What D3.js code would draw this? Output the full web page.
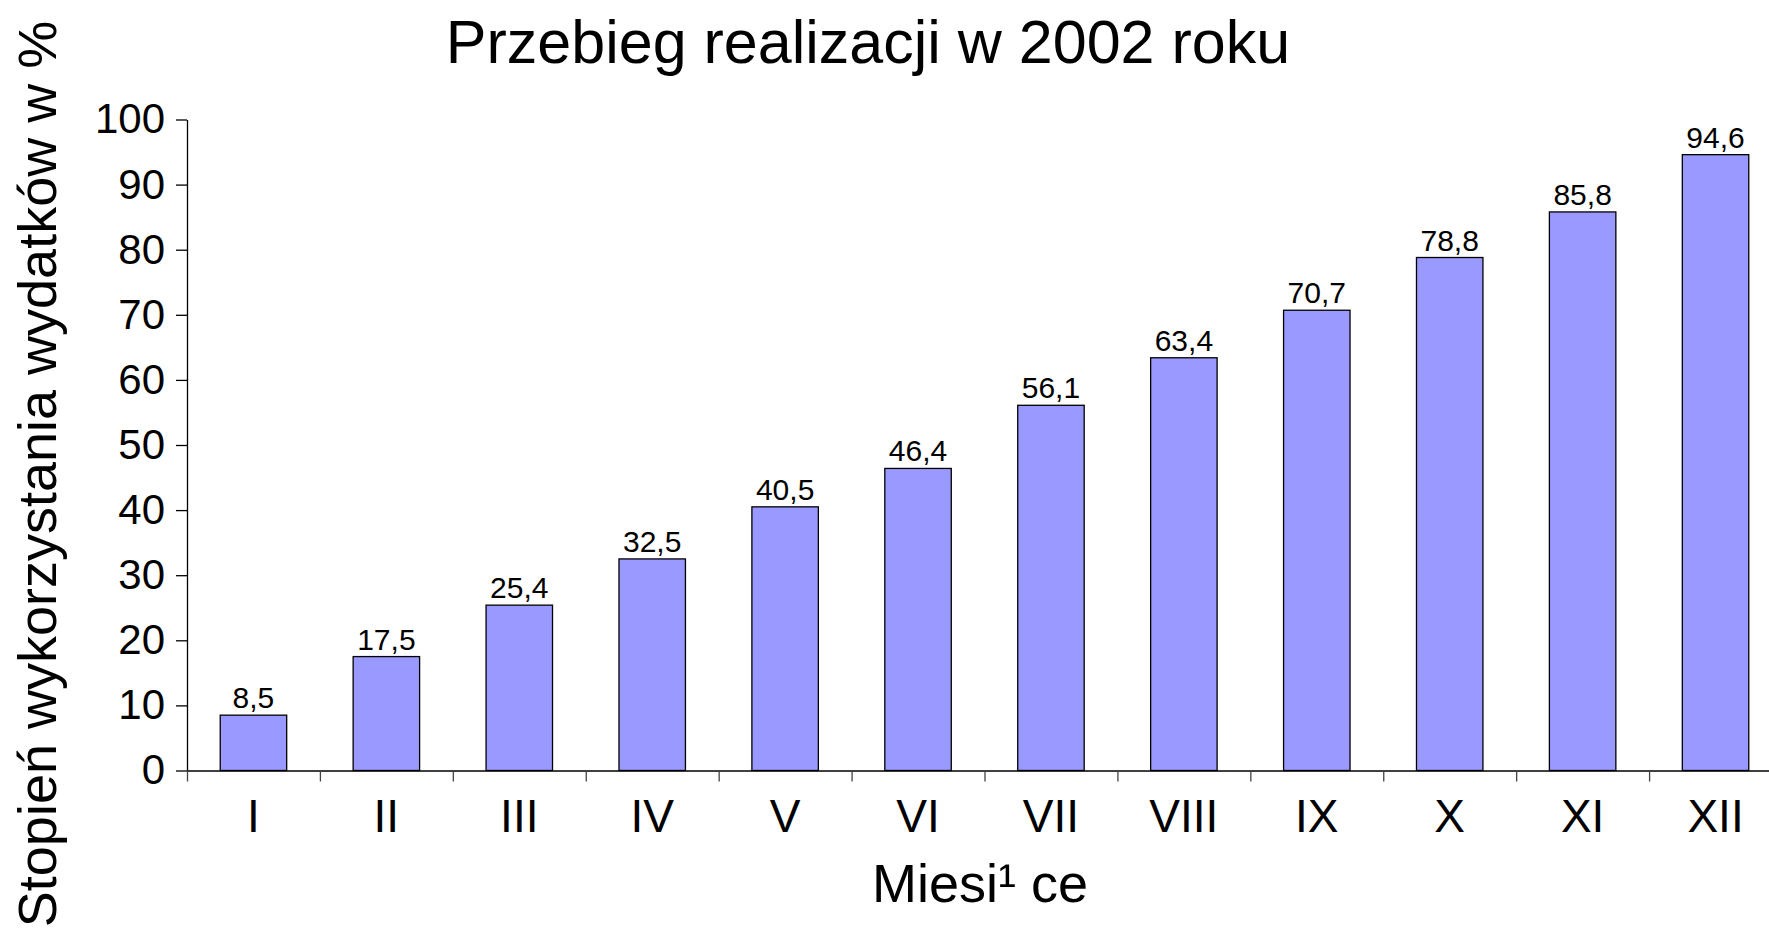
<!DOCTYPE html>
<html>
<head>
<meta charset="utf-8">
<script src="https://cdn.jsdelivr.net/npm/d3@7"></script>
<style>
  body { margin: 0; background: #fff; }
  text { font-family: "Liberation Sans", Arial, sans-serif; fill: #000; }
</style>
</head>
<body>
<div id="chart"></div>
<script>
// data
var months = ["I", "II", "III", "IV", "V", "VI", "VII", "VIII", "IX", "X", "XI", "XII"];
var values = [8.5, 17.5, 25.4, 32.5, 40.5, 46.4, 56.1, 63.4, 70.7, 78.8, 85.8, 94.6];
var yTicks = [0, 10, 20, 30, 40, 50, 60, 70, 80, 90, 100];

// svg area
var svgWidth = 1769;
var svgHeight = 942;

// plot area (right side runs past the window edge like the original)
var plotLeft = 187;
var plotRight = 1782;
var plotTop = 119.5;
var plotBottom = 770.5;

var svg = d3.select("#chart")
    .append("svg")
    .attr("width", svgWidth)
    .attr("height", svgHeight);

var data = months.map(function(m, i) { return { month: m, value: values[i] }; });

// scales
var xBand = d3.scaleBand()
    .domain(months)
    .range([plotLeft, plotRight])
    .paddingInner(0.5)
    .paddingOuter(0.25);

var xEdges = d3.scaleLinear()
    .domain([0, months.length])
    .range([plotLeft, plotRight]);

var yLinearScale = d3.scaleLinear()
    .domain([0, 100])
    .range([plotBottom, plotTop]);

// bars
svg.append("g")
    .selectAll("rect")
    .data(data)
    .enter()
    .append("rect")
    .attr("x", d => xBand(d.month))
    .attr("y", d => yLinearScale(d.value))
    .attr("width", xBand.bandwidth())
    .attr("height", d => plotBottom - yLinearScale(d.value))
    .attr("fill", "#9999ff")
    .attr("stroke", "#000")
    .attr("stroke-width", 1.3);

// value labels
svg.append("g")
    .selectAll("text")
    .data(data)
    .enter()
    .append("text")
    .attr("x", d => xBand(d.month) + xBand.bandwidth() / 2)
    .attr("y", d => yLinearScale(d.value) - 7)
    .attr("text-anchor", "middle")
    .attr("font-size", 30)
    .text(d => String(d.value).replace(".", ","));

// y axis
var leftAxis = d3.axisLeft(yLinearScale)
    .tickValues(yTicks)
    .tickSize(11)
    .tickSizeOuter(0)
    .tickPadding(11);

var yAxisG = svg.append("g")
    .attr("transform", `translate(${plotLeft}, 0)`)
    .call(leftAxis);
yAxisG.selectAll("text")
    .attr("font-size", 42)
    .attr("font-family", "Liberation Sans, Arial, sans-serif")
    .attr("fill", "#000");
yAxisG.selectAll("line, path").attr("stroke", "#000").attr("stroke-width", 1.3);

// x axis: boundary ticks
var edgeAxis = d3.axisBottom(xEdges)
    .tickValues(d3.range(months.length + 1))
    .tickFormat("")
    .tickSize(11)
    .tickSizeOuter(0);

var xAxisG = svg.append("g")
    .attr("transform", `translate(0, ${plotBottom})`)
    .call(edgeAxis);
xAxisG.select(".domain").attr("stroke", "#000").attr("stroke-width", 1.6);
xAxisG.selectAll(".tick line").attr("stroke", "#444").attr("stroke-width", 1.3);

// x axis: month labels
var bottomAxis = d3.axisBottom(xBand)
    .tickSize(0)
    .tickPadding(29);

var xLabelG = svg.append("g")
    .attr("transform", `translate(0, ${plotBottom})`)
    .call(bottomAxis);
xLabelG.select(".domain").remove();
xLabelG.selectAll("text")
    .attr("font-size", 46)
    .attr("font-family", "Liberation Sans, Arial, sans-serif")
    .attr("fill", "#000");

// title
svg.append("text")
    .attr("x", 868)
    .attr("y", 63)
    .attr("text-anchor", "middle")
    .attr("font-size", 61)
    .text("Przebieg realizacji w 2002 roku");

// axis titles
svg.append("text")
    .attr("x", 980)
    .attr("y", 902)
    .attr("text-anchor", "middle")
    .attr("font-size", 54)
    .text("Miesi\u00b9 ce");

svg.append("text")
    .attr("transform", "rotate(-90)")
    .attr("x", -474)
    .attr("y", 56)
    .attr("text-anchor", "middle")
    .attr("font-size", 54)
    .text("Stopień wykorzystania wydatków w %");
</script>
</body>
</html>
